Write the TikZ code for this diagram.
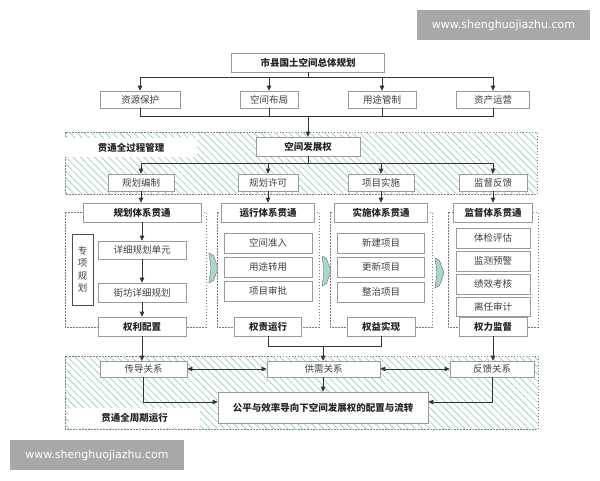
\documentclass[tikz,border=0pt]{standalone}
\usepackage{fontspec}
\setmainfont{Noto Sans CJK SC}
\newfontfamily\wmfont{DejaVu Sans}
\usetikzlibrary{arrows.meta,patterns.meta,calc}
\definecolor{bordergray}{HTML}{9A9A9A}
\definecolor{textgray}{HTML}{404040}
\definecolor{linegray}{HTML}{333333}
\definecolor{framegray}{HTML}{7A7A7A}
\definecolor{hatchc}{HTML}{A6D0C8}
\definecolor{blockfill}{HTML}{A9D6D0}
\definecolor{wmgray}{HTML}{A8A8A8}
\tikzset{
  box/.style={draw=bordergray, fill=white, line width=0.6pt, inner sep=0pt, text=textgray,
    font=\fontsize{9.5}{11}\selectfont},
  hbox/.style={box, text=black!85, font=\bfseries\fontsize{9.5}{11}\selectfont},
  conn/.style={draw=linegray, line width=0.7pt},
  arr/.style={conn, -{Triangle[length=5pt,width=4.5pt]}},
  darr/.style={conn, {Triangle[length=5pt,width=4.5pt]}-{Triangle[length=5pt,width=4.5pt]}},
  dframe/.style={draw=framegray, line width=0.6pt, dash pattern=on 1.5pt off 1.5pt},
  hatch/.style={pattern={Lines[angle=-45,distance=5pt,line width=0.8pt]}, pattern color=hatchc},
  blockarr/.style={fill=blockfill, draw=framegray, line width=0.5pt},
  wm/.style={fill=wmgray, text=white, inner sep=0pt, font=\wmfont\fontsize{11}{12}\selectfont},
  lbl/.style={fill=white, inner sep=0pt, text=black!85, font=\bfseries\fontsize{9.5}{11}\selectfont},
}
\begin{document}
\begin{tikzpicture}[x=1pt,y=-1pt]
\useasboundingbox (0,0) rectangle (600,480);
\fill[white] (0,0) rectangle (600,480);

% watermarks
\node[wm, minimum width=173, minimum height=30] (wm1) at (503.5,25) {www.shenghuojiazhu.com};
\node[wm, minimum width=174, minimum height=30] (wm2) at (97,455) {www.shenghuojiazhu.com};

% hatched regions
\draw[dframe, fill=white] (65,132) rectangle (537,194);
\fill[hatch] (65,132) rectangle (537,194);
\draw[dframe, fill=white] (65,356) rectangle (538,429);
\fill[hatch] (65,356) rectangle (538,429);
\node[lbl, minimum width=132, minimum height=19] (lab1) at (131,147.5) {贯通全过程管理};
\node[lbl, minimum width=131, minimum height=20] (lab2) at (134.5,418) {贯通全周期运行};

% panels
\draw[dframe] (65,212) rectangle (206,327);
\draw[dframe] (217,212) rectangle (319,327);
\draw[dframe] (330,212) rectangle (432,327);
\draw[dframe] (448,212) rectangle (538,327);

% block arrows
\filldraw[blockarr] (209,253) -- (213.5,255.5) -- (218,268) -- (213.5,280.5) -- (209,283) -- (211,268) -- cycle;
\filldraw[blockarr] (322,256) -- (326.5,258.5) -- (331,271) -- (326.5,283.5) -- (322,286) -- (324,271) -- cycle;
\filldraw[blockarr] (435,258) -- (439.5,260.5) -- (444,273) -- (439.5,285.5) -- (435,288) -- (437,273) -- cycle;

% top
\node[hbox, minimum width=153, minimum height=19] (title) at (308,62.5) {市县国土空间总体规划};
\node[box, minimum width=80, minimum height=17] (r1a) at (140,99.5) {资源保护};
\node[box, minimum width=58, minimum height=17] (r1b) at (269,99.5) {空间布局};
\node[box, minimum width=68, minimum height=17] (r1c) at (382,99.5) {用途管制};
\node[box, minimum width=73, minimum height=17] (r1d) at (493,99.5) {资产运营};
\node[hbox, minimum width=104, minimum height=19] (dev) at (308,146.5) {空间发展权};
\node[box, minimum width=66, minimum height=17] (r2a) at (141,182.5) {规划编制};
\node[box, minimum width=60, minimum height=17] (r2b) at (268,182.5) {规划许可};
\node[box, minimum width=66, minimum height=17] (r2c) at (381,182.5) {项目实施};
\node[box, minimum width=68, minimum height=17] (r2d) at (493,182.5) {监督反馈};

\coordinate (t1) at (308,77);
\coordinate (b1) at (308,116);
\coordinate (t2) at (308,163);
\draw[conn] (title.south) -- (t1);
\draw[conn] (t1 -| r1a) -- (t1 -| r1d);
\foreach \n in {r1a,r1b,r1c,r1d} {\draw[arr] (t1 -| \n) -- (\n.north);}
\draw[conn] (r1a.south) -- (r1a.south |- b1) -- (r1d.south |- b1) -- (r1d.south);
\draw[conn] (r1b.south) -- (r1b.south |- b1);
\draw[conn] (r1c.south) -- (r1c.south |- b1);
\draw[arr] (b1) -- (dev.north);
\draw[conn] (dev.south) -- (t2);
\draw[conn] (t2 -| r2a) -- (t2 -| r2d);
\foreach \n in {r2a,r2b,r2c,r2d} {\draw[arr] (t2 -| \n) -- (\n.north);}

% panel 1
\node[hbox, minimum width=118, minimum height=19] (h1) at (142,212.5) {规划体系贯通};
\node[box, draw=black!70, minimum width=21, minimum height=71, align=center,
  font=\fontsize{9.5}{12.5}\selectfont] (zx) at (82.5,269.5) {专\\项\\规\\划};
\node[box, minimum width=88, minimum height=18] (i1a) at (142,250) {详细规划单元};
\node[box, minimum width=88, minimum height=19] (i1b) at (142,292.5) {街坊详细规划};
\node[hbox, minimum width=88, minimum height=19] (p1) at (142,326.5) {权利配置};
\draw[arr] (r2a.south) -- (r2a.south |- h1.north);
\draw[arr] (h1.south -| i1a) -- (i1a.north);
\draw[arr] (i1a.south) -- (i1b.north);
\draw[arr] (i1b.south) -- (p1.north);

% panel 2
\node[hbox, minimum width=93, minimum height=19] (h2) at (268,212.5) {运行体系贯通};
\node[box, minimum width=88, minimum height=20] (i2a) at (268,243) {空间准入};
\node[box, minimum width=88, minimum height=20] (i2b) at (268,267) {用途转用};
\node[box, minimum width=88, minimum height=20] (i2c) at (268,291) {项目审批};
\node[hbox, minimum width=67, minimum height=19] (p2) at (268,326.5) {权责运行};
\draw[arr] (r2b.south) -- (r2b.south |- h2.north);

% panel 3
\node[hbox, minimum width=93, minimum height=19] (h3) at (381,212.5) {实施体系贯通};
\node[box, minimum width=87, minimum height=20] (i3a) at (381,243) {新建项目};
\node[box, minimum width=87, minimum height=20] (i3b) at (381,267) {更新项目};
\node[box, minimum width=87, minimum height=20] (i3c) at (381,292) {整治项目};
\node[hbox, minimum width=68, minimum height=19] (p3) at (381,326.5) {权益实现};
\draw[arr] (r2c.south) -- (r2c.south |- h3.north);

% panel 4
\node[hbox, minimum width=79, minimum height=19] (h4) at (493,212.5) {监督体系贯通};
\node[box, minimum width=74, minimum height=20] (i4a) at (493,238) {体检评估};
\node[box, minimum width=74, minimum height=20] (i4b) at (493,261) {监测预警};
\node[box, minimum width=74, minimum height=20] (i4c) at (493,284) {绩效考核};
\node[box, minimum width=74, minimum height=19] (i4d) at (493,306.5) {离任审计};
\node[hbox, minimum width=68, minimum height=19] (p4) at (493,326.5) {权力监督};
\draw[arr] (r2d.south) -- (r2d.south |- h4.north);

% bottom
\node[box, minimum width=87, minimum height=16] (cd) at (143.5,369) {传导关系};
\node[box, minimum width=113, minimum height=16] (gx) at (323.5,369) {供需关系};
\node[box, minimum width=84, minimum height=16] (fk) at (492,369) {反馈关系};
\node[hbox, minimum width=210, minimum height=31] (gp) at (323,407.5) {公平与效率导向下空间发展权的配置与流转};
\coordinate (m) at (323,346);
\coordinate (q) at (323,402);
\draw[arr] (p1.south) -- (p1.south |- cd.north);
\draw[conn] (p2.south) -- (p2.south |- m) -- (p3.south |- m) -- (p3.south);
\draw[arr] (m) -- (m |- gx.north);
\draw[arr] (p4.south) -- (p4.south |- fk.north);
\draw[darr] (cd.east) -- (gx.west);
\draw[darr] (gx.east) -- (fk.west);
\draw[arr] (gx.south -| m) -- (gp.north -| m);
\draw[arr] (cd.south) -- (cd.south |- q) -- (q -| gp.west);
\draw[arr] (fk.south) -- (fk.south |- q) -- (q -| gp.east);
\end{tikzpicture}
\end{document}
